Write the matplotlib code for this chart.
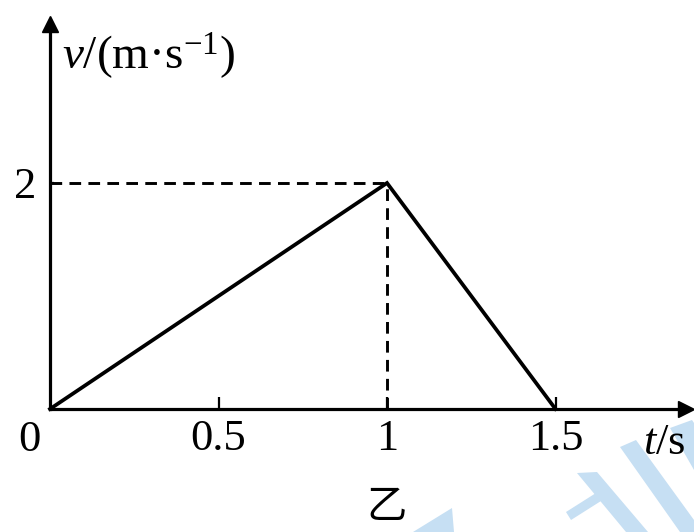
import matplotlib
matplotlib.use("Agg")
import matplotlib.pyplot as plt
from matplotlib.patches import Polygon

plt.rcParams['font.family'] = ['Liberation Serif', 'DejaVu Serif']
plt.rcParams['mathtext.fontset'] = 'custom'
plt.rcParams['mathtext.rm'] = 'Liberation Serif'
plt.rcParams['mathtext.it'] = 'Liberation Serif:italic'

# v-t graph: speed up to the peak, then braking to rest
t = [0, 1, 1.5]
v = [0, 2, 0]
x_ticks = [0.5, 1, 1.5]
x_ticklabels = ['0.5', '1', '1.5']
y_ticks = [2]
y_ticklabels = ['2']
t_peak, v_peak = t[1], v[1]

W, H = 694, 532
fig = plt.figure(figsize=(W / 100, H / 100), dpi=100, facecolor='white')
ax = fig.add_axes([0, 0, 1, 1])
ax.set_facecolor('none')

# pixel layout: origin at (50, 409), 337 px per second, 113 px per m/s
ox, oy, sx, sy = 50, 409, 337, 113
ax.set_xlim(-ox / sx, (W - ox) / sx)
ax.set_ylim(-(H - oy) / sy, oy / sy)

x_end = (W - 1 - ox) / sx
y_end = (oy - 18) / sy

for side in ['top', 'right']:
    ax.spines[side].set_visible(False)
ax.spines['left'].set_position(('data', 0))
ax.spines['bottom'].set_position(('data', 0))
ax.spines['left'].set_bounds(0, y_end - 0.08)
ax.spines['bottom'].set_bounds(0, x_end - 0.03)
ax.spines['left'].set_linewidth(2.3)
ax.spines['bottom'].set_linewidth(2.3)

# arrow heads
ax.plot(x_end - 0.02, 0, marker='>', color='black', markersize=11, clip_on=False)
ax.plot(0, y_end - 0.05, marker='^', color='black', markersize=11, clip_on=False)

ax.set_xticks(x_ticks)
ax.set_xticklabels(x_ticklabels)
ax.set_yticks(y_ticks)
ax.set_yticklabels(y_ticklabels)
ax.tick_params(axis='x', direction='in', length=9, width=1.6, labelsize=32, pad=7)
ax.tick_params(axis='y', direction='in', length=3, width=1.6, labelsize=32, pad=10)

ax.text(-0.06, -0.1, '0', fontsize=32, ha='center', va='top')
ax.text(1.76, -0.12, r'$\mathit{t}$/s', fontsize=32, ha='left', va='top')
ax.text(0.035, 3.13, r'$\mathit{v}$/(m·s$^{-1}$)', fontsize=34, ha='left', va='center')
ax.text(1.0, -0.68, '乙', fontsize=29, ha='center', va='top',
        family=['Noto Sans CJK SC', 'DejaVu Sans'])

# the graph and its guide lines
ax.plot(t, v, color='black', linewidth=2.7, solid_joinstyle='miter')
ax.plot([0, t_peak], [v_peak, v_peak], color='black', linewidth=2.1, dashes=(4, 2.5))
ax.plot([t_peak, t_peak], [0, v_peak], color='black', linewidth=2.1, dashes=(4, 2.5))

# light blue watermark strokes in the lower right corner
wm = '#c6dff3'
shapes = [
    [(577, 473), (597, 472), (648, 532), (626, 532)],
    [(566, 512), (596, 493), (601, 501), (571, 520)],
    [(620, 447), (636, 440), (694, 520), (694, 532), (680, 532)],
    [(670, 428), (692, 420), (694, 423), (694, 470)],
    [(413, 532), (452, 508), (454, 532)],
]
for pts in shapes:
    fig.add_artist(Polygon([(x / W, 1 - y / H) for x, y in pts], closed=True,
                           facecolor=wm, edgecolor='none',
                           transform=fig.transFigure, zorder=0))

fig.savefig('out.png', dpi=100, facecolor='white')
